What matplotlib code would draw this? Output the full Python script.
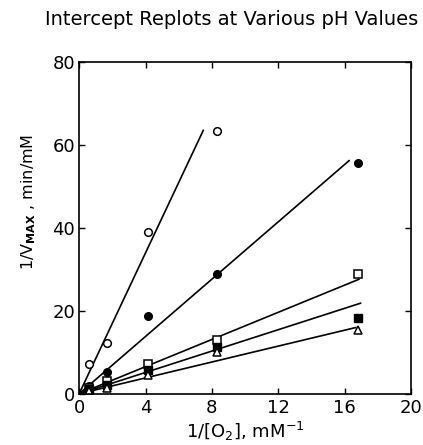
import matplotlib
matplotlib.use("Agg")
import matplotlib.pyplot as plt

# 1/[O2] (mM^-1) at which rates were measured
inv_o2 = [0.6, 1.67, 4.17, 8.33, 16.8]

# intercept replots, one series per pH
open_circle_y = [7.2, 12.2, 39.0, 63.5]
filled_circle_y = [2.0, 5.2, 18.8, 29.0, 55.8]
open_square_y = [1.5, 3.0, 7.1, 13.0, 28.9]
filled_square_y = [1.2, 2.2, 5.7, 11.3, 18.3]
triangle_y = [0.8, 1.3, 4.6, 10.0, 15.3]

# fitted lines: slope, intercept, last x of the drawn segment
fit_slopes = [8.5, 3.46, 1.64, 1.29, 0.96]
fit_intercepts = [0.0, 0.0, 0.0, 0.0, 0.0]
fit_x_end = [7.5, 16.3, 16.9, 17.0, 16.7]

x_ticks = [0, 4, 8, 12, 16, 20]
y_ticks = [0, 20, 40, 60, 80]

plt.rcParams["font.family"] = "DejaVu Sans"
plt.rcParams["mathtext.fontset"] = "dejavusans"

fig = plt.figure(figsize=(4.23, 4.45), dpi=100)
ax = fig.add_axes([0.187, 0.115, 0.785, 0.745])

for m, b, xe in zip(fit_slopes, fit_intercepts, fit_x_end):
    ax.plot([0, xe], [b, b + m * xe], color="black", lw=1.2, solid_capstyle="butt")

ax.plot(inv_o2[:4], open_circle_y, "o", mfc="white", mec="black", mew=1.1, ms=5.5, ls="none")
ax.plot(inv_o2, filled_circle_y, "o", color="black", ms=5.5, ls="none")
ax.plot(inv_o2, open_square_y, "s", mfc="white", mec="black", mew=1.1, ms=5.5, ls="none")
ax.plot(inv_o2, filled_square_y, "s", color="black", ms=5.5, ls="none")
ax.plot(inv_o2, triangle_y, "^", mfc="white", mec="black", mew=1.1, ms=5.5, ls="none")

ax.set_xlim(0, 20)
ax.set_ylim(0, 80)
ax.set_xticks(x_ticks)
ax.set_yticks(y_ticks)
ax.tick_params(direction="in", top=True, right=True, length=4, width=1.0,
               labelsize=13)
ax.tick_params(axis="x", pad=4)
ax.tick_params(axis="y", pad=3)
for sp in ax.spines.values():
    sp.set_linewidth(1.2)

ax.set_xlabel(r"1/[O$_2$], mM$^{-1}$", fontsize=13, labelpad=2)
ax.set_ylabel(r"1/V$_{\mathbf{MAX}}$ , min/mM", fontsize=11.5)
ax.yaxis.set_label_coords(-0.125, 0.58)
fig.text(0.547, 0.957, "Intercept Replots at Various pH Values",
         ha="center", va="center", fontsize=14)

fig.savefig("out.png", dpi=100)
